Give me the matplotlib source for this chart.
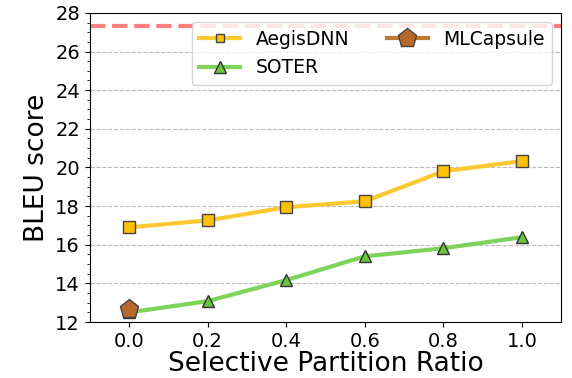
import matplotlib
matplotlib.use("Agg")
import matplotlib.pyplot as plt
from matplotlib.lines import Line2D
from matplotlib.ticker import MultipleLocator

ratios = [0.0, 0.2, 0.4, 0.6, 0.8, 1.0]
aegis = [16.9, 17.26, 17.94, 18.25, 19.8, 20.33]
soter = [12.5, 13.08, 14.17, 15.4, 15.82, 16.39]
mlcapsule_x = [0.0]
mlcapsule = [12.67]
baseline = 27.3

fig, ax = plt.subplots(figsize=(5.72, 3.78), dpi=100)

ax.axhline(baseline, color="#ff7f7f", linestyle="--", linewidth=3)
ax.plot(ratios, aegis, color="#fdc931", linewidth=3, marker="s", markersize=8,
        markerfacecolor="#ffc107", markeredgecolor="#444444")
ax.plot(ratios, soter, color="#7ed35a", linewidth=3, marker="^", markersize=8,
        markerfacecolor="#6cc33c", markeredgecolor="#333333")
ax.plot(mlcapsule_x, mlcapsule, color="#c07a30", linewidth=3, marker="p", markersize=14,
        markerfacecolor="#b8692a", markeredgecolor="#444444")

# legend handles (markers drawn a bit differently than in the plot)
handles = [
    Line2D([], [], color="#fdc931", linewidth=3, marker="s", markersize=6,
           markerfacecolor="#ffc107", markeredgecolor="#444444", label="AegisDNN"),
    Line2D([], [], color="#7ed35a", linewidth=3, marker="^", markersize=8,
           markerfacecolor="#6cc33c", markeredgecolor="#333333", label="SOTER"),
    Line2D([], [], color="#c07a30", linewidth=3, marker="p", markersize=14,
           markerfacecolor="#b8692a", markeredgecolor="#444444", label="MLCapsule"),
]

ax.set_xlim(-0.1, 1.1)
ax.set_ylim(12, 28)
ax.set_xticks(ratios)
ax.set_yticks(range(12, 29, 2))
ax.yaxis.set_minor_locator(MultipleLocator(0.5))
ax.tick_params(labelsize=14)
ax.yaxis.grid(True, linestyle="--", color="#bbbbbb", linewidth=0.8)
ax.set_axisbelow(True)
ax.set_xlabel("Selective Partition Ratio", fontsize=19, labelpad=0)
ax.set_ylabel("BLEU score", fontsize=19)
ax.legend(handles=handles, ncol=2, fontsize=13.5, loc="upper right", handlelength=2.2)

fig.subplots_adjust(left=0.157, right=0.981, top=0.966, bottom=0.148)
fig.savefig("out.png")
